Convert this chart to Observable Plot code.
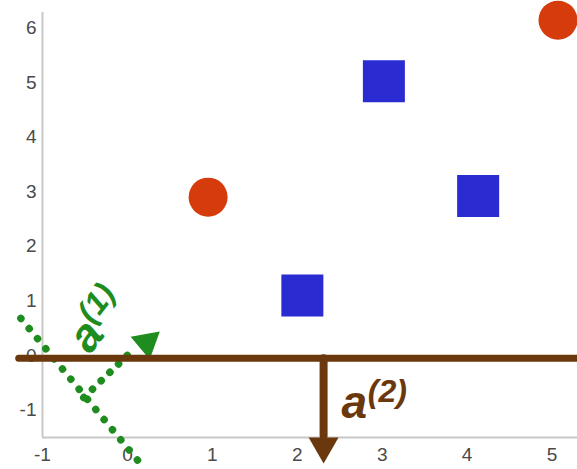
<!DOCTYPE html>
<html><head><meta charset="utf-8">
<script src="https://cdn.jsdelivr.net/npm/d3@7"></script>
<script src="https://cdn.jsdelivr.net/npm/@observablehq/plot@0.6"></script>
<style>html,body{margin:0;padding:0;background:#fff;overflow:hidden}</style>
</head><body><div id="chart"></div>
<script>
// tick values
const xTicks = [-1, 0, 1, 2, 3, 4, 5];
const yTicks = [-1, 0, 1, 2, 3, 4, 5, 6];
// class 1 (red circles)
const circleX = [0.95, 5.07];
const circleY = [2.9, 6.14];
// class 2 (blue squares)
const squareX = [2.06, 3.02, 4.13];
const squareY = [1.1, 5.02, 2.92];
// direction a(2): horizontal separating line and downward normal
const lineX = [-1.28, 5.3];
const lineY = [-0.05, -0.05];
const arrow2X = [2.31, 2.31];
const arrow2Y = [-0.05, -1.47];
const head2X = [2.31];
const head2Y = [-1.66];
// direction a(1): dotted line and dotted normal
const dotLineX = [-1.255, 0.18];
const dotLineY = [0.68, -2.03];
const arrow1X = [-0.514, 0.09];
const arrow1Y = [-0.77, 0.14];
const head1X = [0.227];
const head1Y = [0.238];
// labels
const labelA2X = [2.52], labelA2Y = [-1.136];
const supA2X = [2.83], supA2Y = [-0.842];
const labelA1X = [-0.44], labelA1Y = [0.01];
const supA1X = [-0.41], supA1Y = [0.56];

const brown = "#6a380c", green = "#1e8c1e", red = "#d63b0c", blue = "#2b2bd2";
const font = "Liberation Sans, Arial, sans-serif";
const one = {length: 1}, two = {length: 2};

const chart = Plot.plot({
  width: 577,
  height: 469,
  marginLeft: 42,
  marginRight: 0,
  marginTop: 12,
  marginBottom: 32,
  style: {fontFamily: font, background: "#fff"},
  x: {domain: [-1, 5.3]},
  y: {domain: [-1.5, 6.28]},
  marks: [
    Plot.axisX({ticks: xTicks, tickSize: 0, tickPadding: 10, fontSize: 19, color: "#4a4a4a", tickFormat: d => String(d), label: null}),
    Plot.axisY({ticks: yTicks, tickSize: 0, tickPadding: 6, fontSize: 19, color: "#4a4a4a", tickFormat: d => String(d), label: null}),
    Plot.ruleX([-1], {stroke: "#c8c8c8", strokeWidth: 2}),
    Plot.ruleY([-1.5], {stroke: "#c8c8c8", strokeWidth: 2}),
    // a(1)
    Plot.line(two, {x: dotLineX, y: dotLineY, stroke: green, strokeWidth: 7.5, strokeDasharray: "0.1,13", strokeLinecap: "round"}),
    Plot.line(two, {x: arrow1X, y: arrow1Y, stroke: green, strokeWidth: 7.5, strokeDasharray: "0.1,12", strokeLinecap: "round"}),
    Plot.dot(one, {x: head1X, y: head1Y, symbol: "triangle", r: 11, fill: green, rotate: 50}),
    Plot.text(one, {x: labelA1X, y: labelA1Y, text: ["a"], rotate: -52, fill: green, fontSize: 46, fontWeight: "bold", fontStyle: "italic", textAnchor: "start", lineAnchor: "bottom"}),
    Plot.text(one, {x: supA1X, y: supA1Y, text: ["(1)"], rotate: -52, fill: green, fontSize: 32, fontWeight: "bold", fontStyle: "italic", textAnchor: "start", lineAnchor: "bottom"}),
    // a(2)
    Plot.line(two, {x: lineX, y: lineY, stroke: brown, strokeWidth: 7}),
    Plot.line(two, {x: arrow2X, y: arrow2Y, stroke: brown, strokeWidth: 8}),
    Plot.dot(one, {x: head2X, y: head2Y, symbol: "triangle", r: 11.1, fill: brown, rotate: 180}),
    Plot.text(one, {x: labelA2X, y: labelA2Y, text: ["a"], fill: brown, fontSize: 46, fontWeight: "bold", fontStyle: "italic", textAnchor: "start", lineAnchor: "bottom"}),
    Plot.text(one, {x: supA2X, y: supA2Y, text: ["(2)"], fill: brown, fontSize: 32, fontWeight: "bold", fontStyle: "italic", textAnchor: "start", lineAnchor: "bottom"}),
    // points
    Plot.dot(circleX, {x: circleX, y: circleY, symbol: "circle", r: 19.5, fill: red}),
    Plot.dot(squareX, {x: squareX, y: squareY, symbol: "square", r: 23.7, fill: blue})
  ]
});
document.getElementById("chart").appendChild(chart);
</script>
</body></html>
